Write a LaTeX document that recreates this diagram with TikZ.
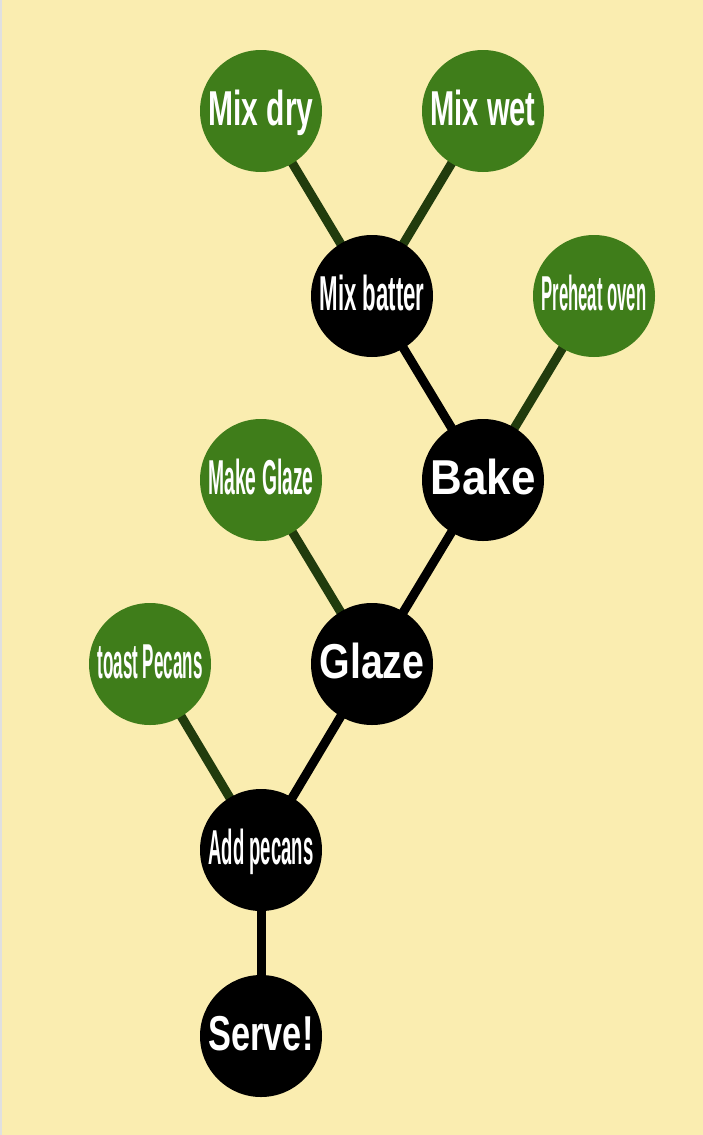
\documentclass[tikz,border=0pt]{standalone}
\usepackage{fontspec}
\setmainfont{Liberation Sans}
\usepackage{graphicx}
\usetikzlibrary{backgrounds}
\definecolor{bgyellow}{HTML}{FAEDB0}
\definecolor{leafgreen}{HTML}{3F7D1A}
\definecolor{edgegreen}{HTML}{213C0D}
\newcommand{\fitlabel}[1]{\resizebox{105pt}{\height}{\bfseries #1}}
\tikzset{
  stepnode/.style={circle, minimum size=122pt, inner sep=0pt, text=white,
    text height=29pt, text depth=0pt,
    font=\fontsize{49}{49}\selectfont},
  leaf/.style={stepnode, fill=leafgreen},
  inner/.style={stepnode, fill=black},
  leafedge/.style={draw=edgegreen, line width=9pt},
  mainedge/.style={draw=black, line width=9pt}
}
\begin{document}
\begin{tikzpicture}[x=1pt,y=-1pt]
\useasboundingbox (0,0) rectangle (703,1135);
\node[leaf]  (mixdry)   at (261,111)  {\fitlabel{Mix dry}};
\node[leaf]  (mixwet)   at (483,111)  {\fitlabel{Mix wet}};
\node[inner] (mixbat)   at (372,296)  {\fitlabel{Mix batter}};
\node[leaf]  (preheat)  at (594,296)  {\fitlabel{Preheat oven}};
\node[inner] (bake)     at (483,480)  {\fitlabel{Bake}};
\node[leaf]  (makeglz)  at (261,480)  {\fitlabel{Make Glaze}};
\node[inner] (glaze)    at (372,664)  {\fitlabel{Glaze}};
\node[leaf]  (toast)    at (150,664)  {\fitlabel{toast Pecans}};
\node[inner] (addpec)   at (261,850)  {\fitlabel{Add pecans}};
\node[inner] (serve)    at (261,1036) {\fitlabel{Serve!}};
\begin{scope}[on background layer]
  \fill[bgyellow] (0,0) rectangle (703,1135);
  \draw[black!12, line width=1.5pt] (0.75,0) -- (0.75,1135);
  \draw[leafedge] (mixdry.center) -- (mixbat.center);
  \draw[leafedge] (mixwet.center) -- (mixbat.center);
  \draw[leafedge] (preheat.center) -- (bake.center);
  \draw[leafedge] (makeglz.center) -- (glaze.center);
  \draw[leafedge] (toast.center) -- (addpec.center);
  \draw[mainedge] (mixbat.center) -- (bake.center);
  \draw[mainedge] (bake.center) -- (glaze.center);
  \draw[mainedge] (glaze.center) -- (addpec.center);
  \draw[mainedge] (addpec.center) -- (serve.center);
\end{scope}
\end{tikzpicture}
\end{document}
